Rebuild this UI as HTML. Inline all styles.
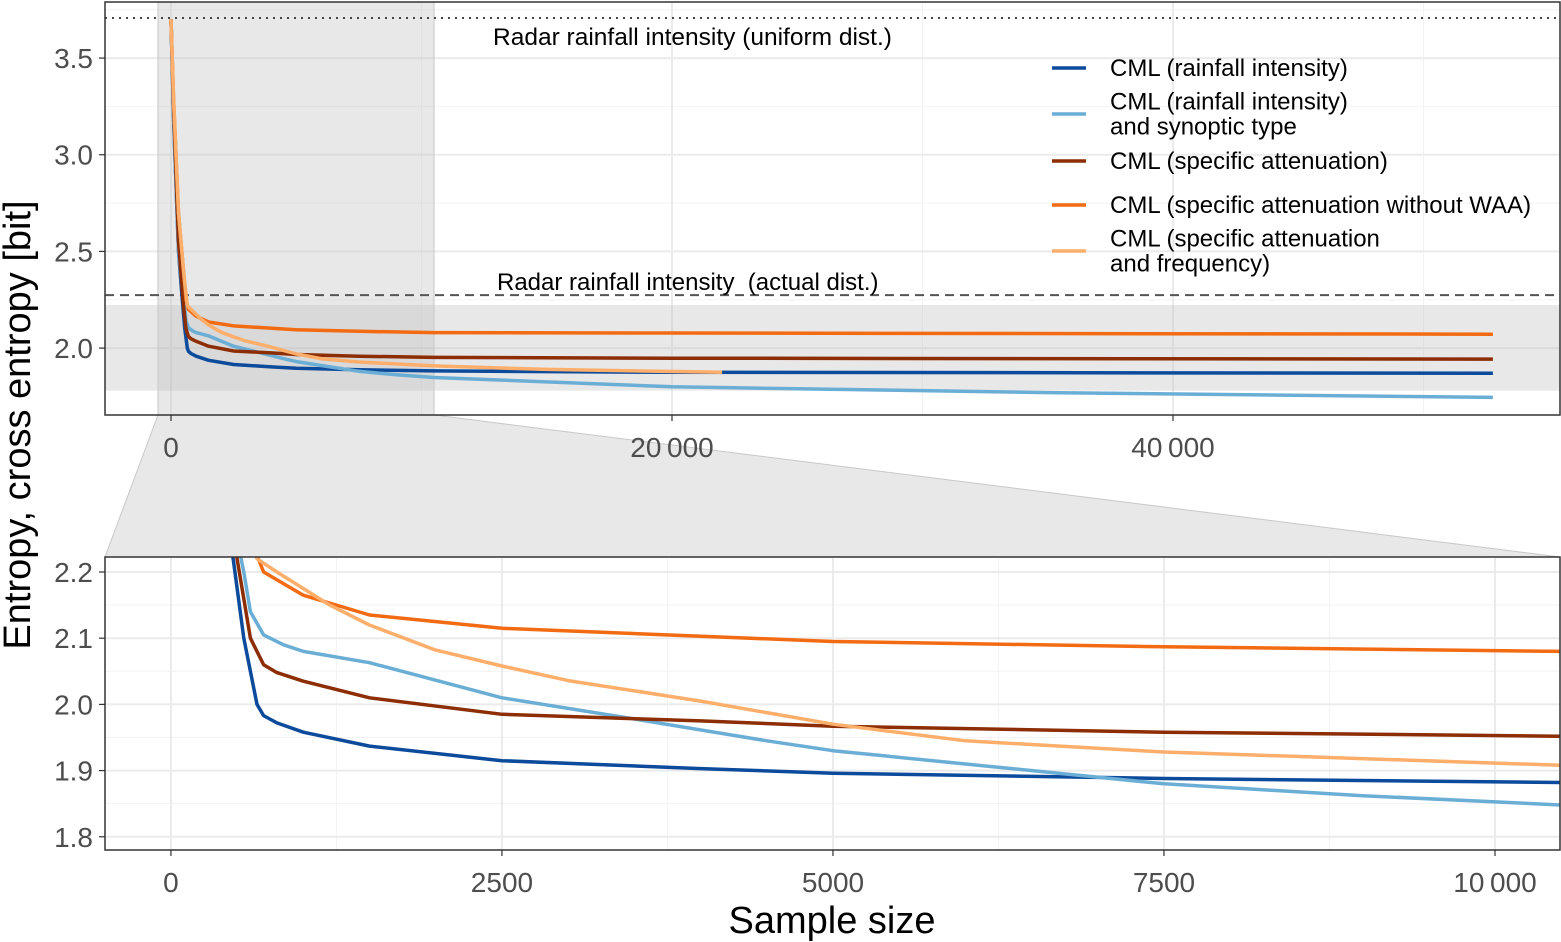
<!DOCTYPE html>
<html><head><meta charset="utf-8"><style>
html,body{margin:0;padding:0;background:#fff}
svg{display:block;font-family:"Liberation Sans",Arial,sans-serif}
</style></head><body>
<svg id="c" width="1561" height="942" viewBox="0 0 1561 942"></svg>
<script>
const seriesNames=["CML (rainfall intensity)","CML (rainfall intensity) and synoptic type","CML (specific attenuation)","CML (specific attenuation without WAA)","CML (specific attenuation and frequency)"];
const seriesColors=["#0c4a9b","#6aaed6","#8c2d04","#f26b12","#fdae6b"];
const xBlue=[0,100,300,450,550,650,700,800,1000,1500,2500,4000,5000,7500,10500,20000,52770];
const yBlue=[3.7,3.2,2.5,2.25,2.1,2.0,1.983,1.972,1.958,1.937,1.915,1.903,1.896,1.888,1.882,1.875,1.87];
const xLBlue=[0,100,300,500,550,600,700,850,1000,1500,2500,3500,4500,5000,6000,7500,9000,10500,20000,35000,52770];
const yLBlue=[3.7,3.2,2.5,2.25,2.2,2.14,2.105,2.09,2.08,2.063,2.01,1.978,1.945,1.93,1.91,1.88,1.862,1.848,1.80,1.77,1.745];
const xBrown=[0,100,300,500,600,700,800,1000,1500,2500,4000,5000,7500,10500,20000,52770];
const yBrown=[3.7,3.25,2.55,2.22,2.1,2.06,2.048,2.035,2.01,1.985,1.975,1.967,1.958,1.952,1.948,1.943];
const xOrange=[0,100,300,500,600,700,1000,1500,2500,5000,7500,10500,20000,52770];
const yOrange=[3.7,3.3,2.7,2.4,2.25,2.2,2.165,2.135,2.115,2.095,2.087,2.08,2.078,2.072];
const xLOrange=[0,100,300,500,650,800,1200,1500,2000,2500,3000,4000,5000,6000,7500,10500,15000,22000];
const yLOrange=[3.7,3.3,2.7,2.4,2.22,2.2,2.15,2.12,2.082,2.058,2.036,2.005,1.97,1.945,1.928,1.908,1.89,1.875];
const seriesX=[xBlue,xLBlue,xBrown,xOrange,xLOrange];
const seriesY=[yBlue,yLBlue,yBrown,yOrange,yLOrange];
const topXTicks=[0,20000,40000], topXTickLabels=["0","20\u2009000","40\u2009000"];
const topYTicks=[2.0,2.5,3.0,3.5], topYTickLabels=["2.0","2.5","3.0","3.5"];
const botXTicks=[0,2500,5000,7500,10000], botXTickLabels=["0","2500","5000","7500","10\u2009000"];
const botYTicks=[1.8,1.9,2.0,2.1,2.2], botYTickLabels=["1.8","1.9","2.0","2.1","2.2"];
const uniformEntropy=3.707, actualEntropy=2.274;

const NS="http://www.w3.org/2000/svg", svgRoot=document.getElementById('c');
function el(t,a,p){const e=document.createElementNS(NS,t);for(const k in a)e.setAttribute(k,a[k]);(p||svgRoot).appendChild(e);return e;}
const T={x0:105,x1:1560,y0:2,y1:415,dx:[-2635,55450],dy:[1.654,3.79]};
const B={x0:105,x1:1560,y0:557,y1:850,dx:[-498,10491],dy:[1.780,2.2227]};
function sx(P,v){return P.x0+(v-P.dx[0])/(P.dx[1]-P.dx[0])*(P.x1-P.x0);}
function sy(P,v){return P.y1-(v-P.dy[0])/(P.dy[1]-P.dy[0])*(P.y1-P.y0);}

const z=el('polygon',{points:`${sx(T,-520)},${T.y1} ${sx(T,10500)},${T.y1} ${B.x1},${B.y0} ${B.x0},${B.y0}`,fill:"#e8e8e8",stroke:"#c8c8c8","stroke-width":1});



function panel(P,xt,xl,yt,yl,xminor,yminor,name){
  const g=el('g',{});
  
  
  const cp='cp'+name;const d=el('clipPath',{id:cp},g);el('rect',{x:P.x0,y:P.y0,width:P.x1-P.x0,height:P.y1-P.y0},d);
  el('rect',{x:P.x0,y:P.y0,width:P.x1-P.x0,height:P.y1-P.y0,fill:"#fff"},g);
  xminor.forEach(v=>el('line',{x1:sx(P,v),x2:sx(P,v),y1:P.y0,y2:P.y1,stroke:"#f3f3f3","stroke-width":1},g));
  yminor.forEach(v=>el('line',{y1:sy(P,v),y2:sy(P,v),x1:P.x0,x2:P.x1,stroke:"#f3f3f3","stroke-width":1},g));
  xt.forEach((v,i)=>{el('line',{x1:sx(P,v),x2:sx(P,v),y1:P.y0,y2:P.y1,stroke:"#ebebeb","stroke-width":2},g);
    el('line',{x1:sx(P,v),x2:sx(P,v),y1:P.y1,y2:P.y1+6,stroke:"#333","stroke-width":1.2},g);
    const t=el('text',{x:sx(P,v),y:P.y1+42,"text-anchor":"middle","font-size":28,fill:"#4d4d4d"},g);t.textContent=xl[i];
    
    });
  yt.forEach((v,i)=>{el('line',{y1:sy(P,v),y2:sy(P,v),x1:P.x0,x2:P.x1,stroke:"#ebebeb","stroke-width":2},g);
    el('line',{y1:sy(P,v),y2:sy(P,v),x1:P.x0-6,x2:P.x0,stroke:"#333","stroke-width":1.2},g);
    const t=el('text',{x:P.x0-12,y:sy(P,v)+10,"text-anchor":"end","font-size":28,fill:"#4d4d4d"},g);t.textContent=yl[i];
    
    });
  return {g,cp};
}
const topP=panel(T,topXTicks,topXTickLabels,topYTicks,topYTickLabels,[10000,30000,50000],[2.25,2.75,3.25,3.75],'top-panel');
el('rect',{x:sx(T,-520),y:T.y0,width:sx(T,10500)-sx(T,-520),height:T.y1-T.y0,fill:"#bdbdbd","fill-opacity":0.35,"clip-path":`url(#${topP.cp})`},topP.g);
el('rect',{x:T.x0,y:sy(T,2.2227),width:T.x1-T.x0,height:sy(T,1.780)-sy(T,2.2227),fill:"#bdbdbd","fill-opacity":0.35},topP.g);
el('line',{x1:sx(T,-520),x2:sx(T,-520),y1:T.y0,y2:T.y1,stroke:"#c8c8c8"},topP.g);
el('line',{x1:sx(T,10500),x2:sx(T,10500),y1:T.y0,y2:T.y1,stroke:"#c8c8c8"},topP.g);
const u=el('line',{x1:T.x0,x2:T.x1,y1:sy(T,uniformEntropy),y2:sy(T,uniformEntropy),stroke:"#444","stroke-width":2,"stroke-dasharray":"2 5"},topP.g);


const a=el('line',{x1:T.x0,x2:T.x1,y1:sy(T,actualEntropy),y2:sy(T,actualEntropy),stroke:"#555","stroke-width":2,"stroke-dasharray":"9 6"},topP.g);


let t=el('text',{x:493,y:45,"font-size":24.5,fill:"#000"},topP.g);t.textContent="Radar rainfall intensity (uniform dist.)";


t=el('text',{x:497,y:290,"font-size":24,fill:"#000",style:"white-space:pre"},topP.g);t.textContent="Radar rainfall intensity  (actual dist.)";



const botP=panel(B,botXTicks,botXTickLabels,botYTicks,botYTickLabels,[1250,3750,6250,8750],[1.85,1.95,2.05,2.15],'bottom-panel');

function drawSeries(P,cp,g,pfx){
  for(let s=0;s<seriesX.length;s++){
    const pts=seriesX[s].map((x,i)=>sx(P,x).toFixed(1)+","+sy(P,seriesY[s][i]).toFixed(1)).join(" ");
    const l=el('polyline',{points:pts,fill:"none",stroke:seriesColors[s],"stroke-width":3.5,"stroke-linejoin":"round","clip-path":`url(#${cp})`},g);
    
    
  }
}
drawSeries(T,topP.cp,topP.g,'top');
drawSeries(B,botP.cp,botP.g,'bottom');
[T,B].forEach(P=>el('rect',{x:P.x0,y:P.y0,width:P.x1-P.x0,height:P.y1-P.y0,fill:"none",stroke:"#333","stroke-width":1.5}));

const lg=el('g',{});


const legY=[68,114,161,205,251];
const legLines=[["CML (rainfall intensity)"],["CML (rainfall intensity)","and synoptic type"],["CML (specific attenuation)"],["CML (specific attenuation without WAA)"],["CML (specific attenuation","and frequency)"]];
legY.forEach((y,i)=>{
  const e=el('g',{},lg);
  
  
  el('line',{x1:1052,x2:1086,y1:y,y2:y,stroke:seriesColors[i],"stroke-width":3.5},e);
  const n=legLines[i].length;
  legLines[i].forEach((s,j)=>{const tt=el('text',{x:1110,y:y+8+(j-(n-1)/2)*25,"font-size":24,fill:"#000"},e);tt.textContent=s;});
});
t=el('text',{x:0,y:0,"font-size":38,fill:"#000","text-anchor":"middle",transform:"translate(30,425) rotate(-90)"});
t.textContent="Entropy, cross entropy [bit]";


t=el('text',{x:832,y:933,"font-size":38,fill:"#000","text-anchor":"middle"});
t.textContent="Sample size";


</script>
</body></html>
